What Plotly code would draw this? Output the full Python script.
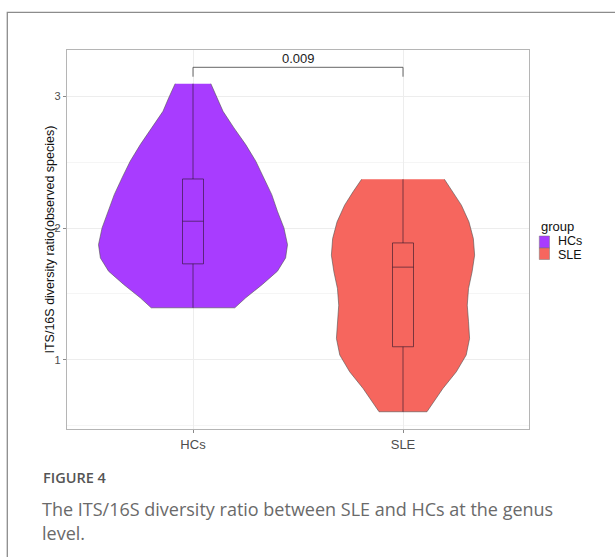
import plotly.graph_objects as go

# ---------------- data ----------------
groups = ["HCs", "SLE"]
positions = [1, 2]
colors = ["#A83CFF", "#F6665E"]

# violin density profiles (value level, half width in category units)
hcs_levels = [3.098, 2.989, 2.888, 2.762, 2.635, 2.509, 2.382, 2.255, 2.129,
              2.002, 1.875, 1.774, 1.673, 1.572, 1.471, 1.395]
hcs_halfwidth = [0.085, 0.116, 0.143, 0.195, 0.251, 0.299, 0.338, 0.375, 0.402,
                 0.433, 0.450, 0.441, 0.402, 0.330, 0.251, 0.199]
sle_levels = [2.372, 2.276, 2.175, 2.048, 1.921, 1.795, 1.668, 1.541, 1.415,
              1.289, 1.162, 1.036, 0.909, 0.782, 0.656, 0.605]
sle_halfwidth = [0.197, 0.238, 0.278, 0.314, 0.335, 0.341, 0.329, 0.312, 0.306,
                 0.312, 0.317, 0.301, 0.254, 0.190, 0.135, 0.114]

# box statistics
box_lower = [1.395, 0.605]
box_q1 = [1.729, 1.099]
box_median = [2.053, 1.704]
box_q3 = [2.374, 1.888]
box_upper = [3.098, 2.372]

# significance bracket
p_label = "0.009"
bracket_top = 3.2225
bracket_tick_end = 3.151
p_label_y = 3.29

y_ticks = [1, 2, 3]
y_title = "ITS/16S diversity ratio(observed species)"
legend_title = "group"
caption_head = "FIGURE 4"
caption_lines = ["The ITS/16S diversity ratio between SLE and HCs at the genus", "level."]

# ---------------- figure ----------------
W, H = 615, 557
L, R, T, B = 67, 86, 50, 128
pw, ph = W - L - R, H - T - B
X_RANGE = [0.4, 2.6]
Y_RANGE = [0.474, 3.354]


def px(xp):
    return (xp - L) / pw


def py(yp):
    return (H - B - yp) / ph


FONT = "Liberation Sans, Arial, sans-serif"
CAPFONT = "Open Sans, sans-serif"
fig = go.Figure()

profiles = [(hcs_levels, hcs_halfwidth), (sle_levels, sle_halfwidth)]
for i, (lev, hw) in enumerate(profiles):
    pos = positions[i]
    xs = [pos + w for w in hw] + [pos - w for w in hw[::-1]]
    ys = list(lev) + list(lev[::-1])
    fig.add_trace(go.Scatter(
        x=xs, y=ys, mode="lines", fill="toself", fillcolor=colors[i],
        line=dict(color="#505050", width=0.6), showlegend=False,
        hoverinfo="skip"))

fig.add_trace(go.Scatter(
    x=[positions[0], positions[0], positions[1], positions[1]],
    y=[bracket_tick_end, bracket_top, bracket_top, bracket_tick_end],
    mode="lines", line=dict(color="#555555", width=0.9), showlegend=False,
    hoverinfo="skip"))

# boxes on an overlaid axis pair so they render above the violin fills
for i in range(len(groups)):
    fig.add_trace(go.Box(
        x=[positions[i]], q1=[box_q1[i]], median=[box_median[i]], q3=[box_q3[i]],
        lowerfence=[box_lower[i]], upperfence=[box_upper[i]],
        orientation="v", width=0.1, whiskerwidth=0, boxpoints=False,
        fillcolor="rgba(0,0,0,0)", xaxis="x2", yaxis="y2",
        line=dict(color="rgba(40,20,40,0.6)", width=1), showlegend=False))

annotations = [
    dict(x=(positions[0] + positions[1]) / 2, y=p_label_y, xref="x", yref="y",
         text=p_label, showarrow=False, font=dict(family=FONT, size=13, color="#222222")),
    dict(x=px(49), y=0.5, xref="paper", yref="paper", text=y_title, textangle=-90,
         showarrow=False, xanchor="center", yanchor="middle",
         font=dict(family=FONT, size=12.5, color="#111111")),
    dict(x=px(538.5), y=py(226), xref="paper", yref="paper", text=legend_title,
         showarrow=False, xanchor="left", yanchor="middle",
         font=dict(family=FONT, size=13, color="#111111")),
    dict(x=px(41), y=py(477), xref="paper", yref="paper", text=caption_head,
         showarrow=False, xanchor="left", yanchor="middle",
         font=dict(family=CAPFONT, size=14.5, color="#555555", weight=600)),
    dict(x=px(40), y=py(509), xref="paper", yref="paper", text=caption_lines[0],
         showarrow=False, xanchor="left", yanchor="middle",
         font=dict(family=CAPFONT, size=18, color="#6A6A6A")),
    dict(x=px(40), y=py(533), xref="paper", yref="paper", text=caption_lines[1],
         showarrow=False, xanchor="left", yanchor="middle",
         font=dict(family=CAPFONT, size=18, color="#6A6A6A")),
]

shapes = [
    dict(type="rect", xref="paper", yref="paper", x0=px(7.3), x1=1.5, y0=-1.0, y1=py(12.3),
         line=dict(color="#8C8C8C", width=1.3), fillcolor="rgba(0,0,0,0)", layer="below"),
]
key_rows = [(236, 248), (248, 259.5)]
label_nudge = [-0.8, 0.8]
for i, (top, bot) in enumerate(key_rows):
    shapes.append(dict(type="rect", xref="paper", yref="paper",
                       x0=px(539.3), x1=px(549.5), y0=py(bot), y1=py(top),
                       fillcolor=colors[i], line=dict(color="#777777", width=0.5)))
    annotations.append(dict(x=px(556), y=py((top + bot) / 2 + label_nudge[i]),
                            xref="paper", yref="paper",
                            text=groups[i], showarrow=False, xanchor="left", yanchor="middle",
                            font=dict(family=FONT, size=12.5, color="#111111")))

fig.update_layout(
    width=W, height=H, margin=dict(l=L, r=R, t=T, b=B, pad=0),
    paper_bgcolor="white", plot_bgcolor="white",
    annotations=annotations, shapes=shapes, showlegend=False,
    xaxis=dict(range=X_RANGE, tickvals=positions, ticktext=groups,
               showgrid=True, gridcolor="#EDEDED", gridwidth=1, zeroline=False,
               showline=True, mirror=True, linecolor="#B5B5B5", linewidth=1.3,
               ticks="outside", ticklen=3, tickcolor="#8A8A8A",
               tickfont=dict(family=FONT, size=13, color="#4D4D4D")),
    yaxis=dict(range=Y_RANGE, tickvals=y_ticks,
               showgrid=True, gridcolor="#EDEDED", gridwidth=1, zeroline=False,
               showline=True, mirror=True, linecolor="#B5B5B5", linewidth=1.3,
               ticks="outside", ticklen=3, tickcolor="#8A8A8A",
               tickfont=dict(family=FONT, size=11, color="#4D4D4D"),
               minor=dict(tickvals=[0.5, 1.5, 2.5], showgrid=True,
                          gridcolor="#F5F5F5", gridwidth=0.8, ticks="")),
    xaxis2=dict(range=X_RANGE, overlaying="x", visible=False, showgrid=False),
    yaxis2=dict(range=Y_RANGE, overlaying="y", visible=False, showgrid=False),
)

fig.write_html("out.html", config={"displayModeBar": False},
               post_script="document.body.style.margin='0px';")
